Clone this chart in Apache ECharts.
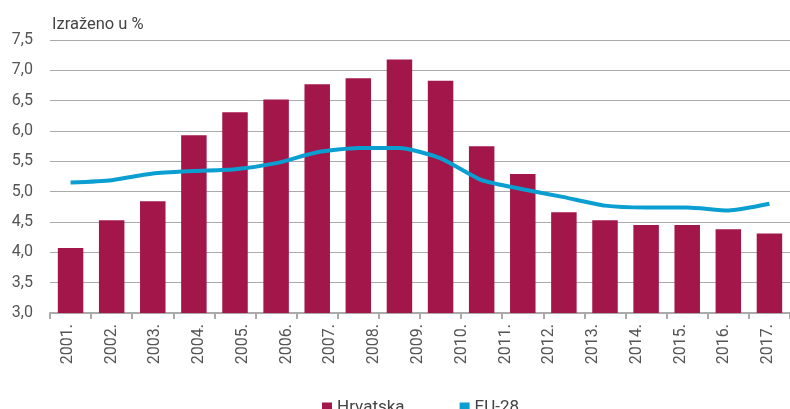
<!DOCTYPE html>
<html>
<head>
<meta charset="utf-8">
<script src="https://cdn.jsdelivr.net/npm/echarts@6/dist/echarts.min.js"></script>
<style>
  html, body { margin: 0; padding: 0; background: #fff; }
  #chart { width: 790px; height: 409px; }
</style>
</head>
<body>
<div id="chart"></div>
<script>
// oznake godina (17) – ispod osi
const yearLabels = ['2001.', '2002.', '2003.', '2004.', '2005.', '2006.', '2007.', '2008.', '2009.',
  '2010.', '2011.', '2012.', '2013.', '2014.', '2015.', '2016.', '2017.'];

// vrijednosti serija (18 stupaca na slici)
const hrvatska = [4.07, 4.53, 4.84, 5.93, 6.31, 6.52, 6.77, 6.87, 7.18,
  6.83, 5.75, 5.29, 4.66, 4.53, 4.45, 4.45, 4.38, 4.31];
const eu28 = [5.15, 5.19, 5.30, 5.34, 5.37, 5.47, 5.65, 5.72, 5.72,
  5.55, 5.19, 5.04, 4.91, 4.77, 4.74, 4.74, 4.69, 4.80];

// y os
const yMin = 3.0;
const yMax = 7.5;
const yStep = 0.5;

const FONT = 'Roboto, "DejaVu Sans", sans-serif';
const chart = echarts.init(document.getElementById('chart'));

const option = {
  animation: false,
  textStyle: { fontFamily: FONT },
  title: {
    text: 'Izraženo u %',
    left: 47,
    top: 11,
    textStyle: { fontSize: 16.5, fontWeight: 'normal', color: '#444', fontFamily: FONT }
  },
  legend: {
    data: ['Hrvatska', 'EU-28'],
    left: 317,
    top: 394,
    icon: 'rect',
    itemWidth: 10,
    itemHeight: 10,
    itemGap: 55,
    textStyle: { fontSize: 17, color: '#444', fontFamily: FONT }
  },
  grid: [
    { left: 50, top: 40, width: 749, height: 273 },
    // samo za oznake godina
    { left: 46, top: 40, width: 753, height: 273 }
  ],
  xAxis: [
    {
      type: 'category',
      gridIndex: 0,
      data: hrvatska.map((_, i) => i),
      axisLine: { lineStyle: { color: '#aaa', width: 2 } },
      axisTick: { show: true, length: 6, lineStyle: { color: '#aaa', width: 2 } },
      axisLabel: { show: false }
    },
    {
      type: 'category',
      gridIndex: 1,
      data: yearLabels,
      axisLine: { show: false },
      axisTick: { show: false },
      axisLabel: {
        rotate: 90,
        interval: 0,
        margin: 11,
        fontSize: 16,
        color: '#555',
        fontFamily: FONT
      }
    }
  ],
  yAxis: [
    {
      type: 'value',
      gridIndex: 0,
      min: yMin,
      max: yMax,
      interval: yStep,
      axisLine: { show: false },
      axisTick: { show: false },
      axisLabel: {
        margin: 17,
        fontSize: 16,
        color: '#555',
        fontFamily: FONT,
        formatter: v => v.toFixed(1).replace('.', ',')
      },
      splitLine: { lineStyle: { color: '#aaa', width: 1 } }
    },
    {
      type: 'value',
      gridIndex: 1,
      min: yMin,
      max: yMax,
      show: false,
      splitLine: { show: false }
    }
  ],
  series: [
    {
      name: 'Hrvatska',
      type: 'bar',
      xAxisIndex: 0,
      yAxisIndex: 0,
      data: hrvatska,
      barWidth: '62%',
      itemStyle: { color: '#a3164a' }
    },
    {
      name: 'EU-28',
      type: 'line',
      xAxisIndex: 0,
      yAxisIndex: 0,
      data: eu28,
      smooth: 0.2,
      symbol: 'none',
      lineStyle: { color: '#0a9fd0', width: 4 },
      itemStyle: { color: '#0a9fd0' }
    }
  ]
};

chart.setOption(option);
</script>
</body>
</html>
